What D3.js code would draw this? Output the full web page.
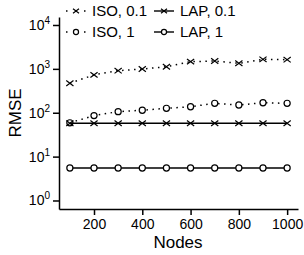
<!DOCTYPE html>
<html>
<head>
<meta charset="utf-8">
<script src="https://cdn.jsdelivr.net/npm/d3@7"></script>
<style>
body { margin: 0; background: #fff; }
svg { font-family: Arial, "Liberation Sans", sans-serif; }
</style>
</head>
<body>
<div class="container"></div>
<script>
// data
var nodes = [100, 200, 300, 400, 500, 600, 700, 800, 900, 1000];
var iso01 = [470, 730, 910, 990, 1120, 1460, 1510, 1340, 1650, 1620];
var iso1 = [59, 86, 106, 114, 126, 137, 164, 150, 169, 164];
var lap01 = [57.5, 57.5, 57.5, 57.5, 57.5, 57.5, 57.5, 57.5, 57.5, 57.5];
var lap1 = [5.5, 5.5, 5.5, 5.5, 5.5, 5.5, 5.5, 5.5, 5.5, 5.5];
var xTicks = [200, 400, 600, 800, 1000];
var yExps = [0, 1, 2, 3, 4];

var series = [
  {name: "ISO, 0.1", values: iso01, dotted: true, marker: "x"},
  {name: "ISO, 1", values: iso1, dotted: true, marker: "o"},
  {name: "LAP, 0.1", values: lap01, dotted: false, marker: "x"},
  {name: "LAP, 1", values: lap1, dotted: false, marker: "o"}
];

var W = 304, H = 255;
var svg = d3.select(".container").append("svg")
  .attr("width", W).attr("height", H);

var x = d3.scaleLinear().domain([55, 1045]).range([59, 298]);
var y = d3.scaleLog().domain([Math.pow(10, -0.194), Math.pow(10, 4.182)]).range([209, 17]);

// axes
var xAxis = svg.append("g").attr("transform", "translate(0,209)")
  .call(d3.axisBottom(x).tickValues(xTicks).tickSize(6).tickPadding(4)
    .tickSizeOuter(0).tickFormat(d3.format("d")));
xAxis.selectAll("text").attr("font-size", 14).attr("fill", "#000");

var yAxis = svg.append("g").attr("transform", "translate(59,0)")
  .call(d3.axisLeft(y).tickValues(yExps.map(function (e) { return Math.pow(10, e); }))
    .tickSize(6).tickPadding(3).tickSizeOuter(0).tickFormat(""));
svg.selectAll(".domain, .tick line").attr("stroke", "#000").attr("stroke-width", 1.5);

yExps.forEach(function (e) {
  var t = svg.append("text")
    .attr("x", 50).attr("y", y(Math.pow(10, e)) + 5)
    .attr("text-anchor", "end").attr("font-size", 14).attr("fill", "#000");
  t.append("tspan").text("10");
  t.append("tspan").attr("dy", -6).attr("font-size", 10).text(e);
});

svg.append("text").attr("x", 178).attr("y", 248)
  .attr("text-anchor", "middle").attr("font-size", 17).text("Nodes");
svg.append("text")
  .attr("transform", "translate(21,113) rotate(-90)")
  .attr("text-anchor", "middle").attr("font-size", 17).text("RMSE");

var line = d3.line()
  .x(function (d, i) { return x(nodes[i]); })
  .y(function (d) { return y(d); });

function drawMarker(g, kind, cx, cy, sz) {
  if (kind === "x") {
    g.append("path")
      .attr("d", "M" + (cx - sz) + "," + (cy - sz * 0.75) + "L" + (cx + sz) + "," + (cy + sz * 0.75) +
        "M" + (cx - sz) + "," + (cy + sz * 0.75) + "L" + (cx + sz) + "," + (cy - sz * 0.75))
      .attr("stroke", "#000").attr("stroke-width", 1.2).attr("fill", "none");
  } else {
    g.append("circle").attr("cx", cx).attr("cy", cy).attr("r", sz * 0.85)
      .attr("stroke", "#000").attr("stroke-width", 1.2).attr("fill", "#fff");
  }
}

series.forEach(function (s) {
  var g = svg.append("g");
  g.append("path").datum(s.values).attr("d", line)
    .attr("fill", "none").attr("stroke", "#000")
    .attr("stroke-width", s.dotted ? 1.5 : 1.5)
    .attr("stroke-dasharray", s.dotted ? "1.5,4.5" : null);
  s.values.forEach(function (v, i) { drawMarker(g, s.marker, x(nodes[i]), y(v), 3.6); });
});

// legend
var legPos = [[66, 11], [66, 32], [154, 11], [154, 32]];
series.forEach(function (s, i) {
  var g = svg.append("g");
  var lx = legPos[i][0], ly = legPos[i][1];
  g.append("line").attr("x1", lx).attr("x2", lx + 20).attr("y1", ly).attr("y2", ly)
    .attr("stroke", "#000").attr("stroke-width", 1.4)
    .attr("stroke-dasharray", s.dotted ? "1.5,7.5" : null);
  drawMarker(g, s.marker, lx + 10, ly, 3);
  g.append("text").attr("x", lx + 26).attr("y", ly + 5)
    .attr("font-size", 15).text(s.name);
});
</script>
</body>
</html>
